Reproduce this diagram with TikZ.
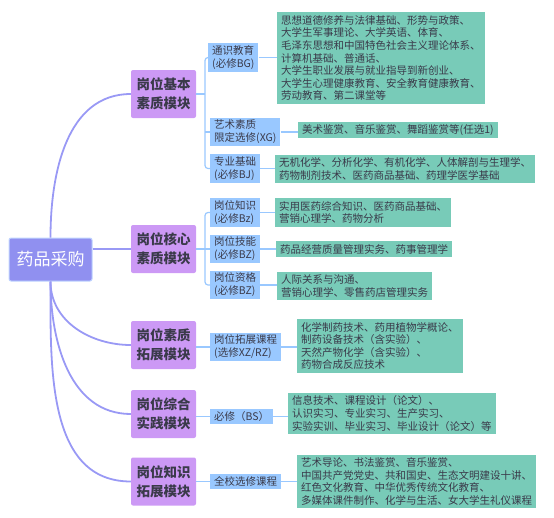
\documentclass[tikz,border=0pt]{standalone}
\usepackage{fontspec}
\setmainfont{Noto Sans CJK SC}
\usepackage{tikz}

\definecolor{rootblue}{HTML}{9090F0}
\definecolor{rootedge}{HTML}{C0D4FF}
\definecolor{modpurple}{HTML}{CC99F5}
\definecolor{subblue}{HTML}{99C8FF}
\definecolor{detailgreen}{HTML}{78CBB8}
\definecolor{inkgray}{HTML}{3A3A4A}
\definecolor{linkblue}{HTML}{9999F5}

\tikzset{
  rootbox/.style={fill=rootblue,draw=rootedge,line width=1pt,rounded corners=2pt,text=white,
    font=\fontsize{17}{20}\selectfont,minimum width=83pt,minimum height=43pt,inner sep=0pt},
  modbox/.style={fill=modpurple,rounded corners=2pt,text=inkgray,align=center,
    font=\bfseries\fontsize{13.5}{19}\selectfont,minimum width=65pt,minimum height=48pt,inner sep=0pt},
  subbox/.style={fill=subblue,anchor=west,text=inkgray,align=left,
    font=\fontsize{10.5}{13}\selectfont,inner xsep=4pt,inner ysep=2.5pt},
  detail/.style={fill=detailgreen,anchor=west,text=inkgray,align=left,
    font=\fontsize{10.5}{12.6}\selectfont,inner xsep=4pt,inner ysep=3pt},
  rootlink/.style={draw=linkblue,line width=1.8pt},
  sublink/.style={draw=subblue,line width=1.2pt}
}

\begin{document}
\begin{tikzpicture}[x=1pt,y=-1pt]
\useasboundingbox (0,0) rectangle (554,517);

% root and modules
\node[rootbox] (root) at (50.5,259.5) {药品采购};
\node[modbox] (basic) at (163.5,94) {岗位基本\\素质模块};
\node[modbox] (core) at (163.5,249) {岗位核心\\素质模块};
\node[modbox] (ext) at (163.5,345) {岗位素质\\拓展模块};
\node[modbox] (prac) at (163.5,414) {岗位综合\\实践模块};
\node[modbox] (know) at (163.5,481.5) {岗位知识\\拓展模块};

\draw[rootlink] (root.north) to[out=90,in=180] (basic.west);
\draw[rootlink] (root.east |- core.west) -- (core.west);
\draw[rootlink] (root.south) to[out=-90,in=180] (ext.west);
\draw[rootlink] (root.south) to[out=-90,in=180] (prac.west);
\draw[rootlink] (root.south) to[out=-90,in=180] (know.west);

% second level
\node[subbox] (gen) at (208,57.5) {通识教育\\(必修BG)};
\node[subbox] (art) at (210,132) {艺术素质\\限定选修(XG)};
\node[subbox] (pro) at (210,168.5) {专业基础\\(必修BJ)};
\node[subbox] (jobk) at (210,212.5) {岗位知识\\(必修Bz)};
\node[subbox] (jobs) at (210,249) {岗位技能\\(必修BZ)};
\node[subbox] (jobq) at (210,285) {岗位资格\\(必修BZ)};
\node[subbox] (jobx) at (210,347) {岗位拓展课程\\(选修XZ/RZ)};
\node[subbox] (req) at (210,416.5) {必修（BS）};
\node[subbox] (elec) at (210,481.5) {全校选修课程};

\coordinate (b1) at (205,94);
\coordinate (b2) at (205,249);
\draw[sublink] (basic.east) -- (b1);
\draw[sublink,rounded corners=3pt] (gen.west) -| (b1) |- (pro.west);
\draw[sublink] (b1 |- art.west) -- (art.west);
\draw[sublink] (core.east) -- (b2);
\draw[sublink,rounded corners=3pt] (jobk.west) -| (b2) |- (jobq.west);
\draw[sublink] (b2 |- jobs.west) -- (jobs.west);
\draw[sublink] (ext.east |- jobx.west) -- (jobx.west);
\draw[sublink] (prac.east |- req.west) -- (req.west);
\draw[sublink] (know.east) -- (elec.west);

% course lists
\node[detail] (genlist) at (277,58) {思想道德修养与法律基础、形势与政策、\\大学生军事理论、大学英语、体育、\\毛泽东思想和中国特色社会主义理论体系、\\计算机基础、普通话、\\大学生职业发展与就业指导到新创业、\\大学生心理健康教育、安全教育健康教育、\\劳动教育、第二课堂等};
\node[detail] (artlist) at (298,130) {美术鉴赏、音乐鉴赏、舞蹈鉴赏等(任选1)};
\node[detail] (prolist) at (275,169) {无机化学、分析化学、有机化学、人体解剖与生理学、\\药物制剂技术、医药商品基础、药理学医学基础};
\node[detail] (jobklist) at (275,212.5) {实用医药综合知识、医药商品基础、\\营销心理学、药物分析};
\node[detail] (jobslist) at (276,249) {药品经营质量管理实务、药事管理学};
\node[detail] (jobqlist) at (277,286) {人际关系与沟通、\\营销心理学、零售药店管理实务};
\node[detail] (jobxlist) at (297,346) {化学制药技术、药用植物学概论、\\制药设备技术（含实验）、\\天然产物化学（含实验）、\\药物合成反应技术};
\node[detail] (reqlist) at (288,413.5) {信息技术、课程设计（论文）、\\认识实习、专业实习、生产实习、\\实验实训、毕业实习、毕业设计（论文）等};
\node[detail] (eleclist) at (297,481.5) {艺术导论、书法鉴赏、音乐鉴赏、\\中国共产党党史、共和国史、生态文明建设十讲、\\红色文化教育、中华优秀传统文化教育、\\多媒体课件制作、化学与生活、女大学生礼仪课程};

\draw[sublink] (gen.east) -- (gen.east -| genlist.west);
\draw[sublink] (art.east) -- (art.east -| artlist.west);
\draw[sublink] (pro.east) -- (pro.east -| prolist.west);
\draw[sublink] (jobk.east) -- (jobk.east -| jobklist.west);
\draw[sublink] (jobs.east) -- (jobs.east -| jobslist.west);
\draw[sublink] (jobq.east) -- (jobq.east -| jobqlist.west);
\draw[sublink] (jobx.east) -- (jobx.east -| jobxlist.west);
\draw[sublink] (req.east) -- (req.east -| reqlist.west);
\draw[sublink] (elec.east) -- (elec.east -| eleclist.west);
\end{tikzpicture}
\end{document}
